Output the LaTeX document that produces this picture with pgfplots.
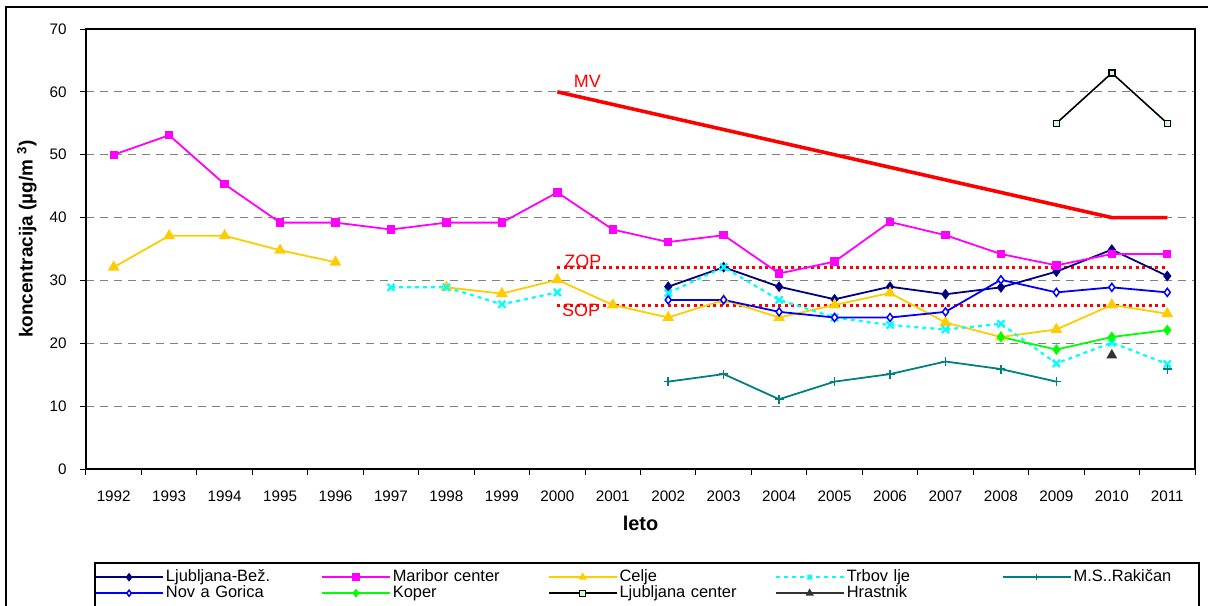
\documentclass[border=0pt]{standalone}
\usepackage{fontspec}
\setmainfont{Liberation Sans}
\usepackage{pgfplots}
\pgfplotsset{compat=1.18}
\definecolor{navyc}{HTML}{000080}
\definecolor{magc}{HTML}{FF00FF}
\definecolor{goldc}{HTML}{FFCC00}
\definecolor{cyanc}{HTML}{00FFFF}
\definecolor{tealc}{HTML}{008080}
\definecolor{bluec}{HTML}{0000FF}
\definecolor{greenc}{HTML}{00FF00}
\definecolor{lgreen}{HTML}{CCFFCC}
\definecolor{dgray}{HTML}{333333}
\definecolor{redc}{HTML}{FF0000}
\begin{document}
\begin{tikzpicture}
\useasboundingbox (-86bp,-137bp) rectangle (1122bp,469bp);
\clip (-86bp,-137bp) rectangle (1122bp,469bp);
\begin{axis}[
  at={(0,0)}, anchor=south west,
  scale only axis, width=1109bp, height=440bp,
  xmin=1991.5, xmax=2011.5, ymin=0, ymax=70,
  xtick={1992,1993,...,2011},
  minor xtick={1991.5,1992.5,...,2011.5},
  ytick={0,10,...,70},
  /pgf/number format/assume math mode=true,
  /pgf/number format/1000 sep={},
  tick pos=left, tick align=outside,
  major x tick style={draw=none},
  minor tick length=6bp, major tick length=6bp,
  every tick/.style={black, line width=1bp},
  axis line style={line width=1.8bp, black},
  ymajorgrids,
  grid style={gray, dash pattern=on 8bp off 6bp, line width=0.9bp},
  ticklabel style={font=\fontsize{15.3}{18}\selectfont},
  yticklabel style={xshift=-10bp},
  xticklabel style={yshift=-12bp},
  xlabel={\textbf{leto}},
  xlabel style={at={(axis description cs:0.5,0)}, anchor=center, yshift=-54bp, font=\fontsize{20}{24}\selectfont},
  ylabel={\textbf{koncentracija (µg/m \textsuperscript{3})}},
  ylabel style={at={(axis description cs:-0.0532,0.5227)}, anchor=center, font=\fontsize{19}{23}\selectfont},
  unbounded coords=jump,
  legend columns=5,
  legend style={at={(axis description cs:0.0072,-0.2273)}, anchor=north west, draw=none, fill=none, inner sep=0pt,
    column sep=0pt, row sep=0pt,
    font=\fontsize{16.5}{17}\selectfont,
    nodes={font=\fontsize{16.5}{17}\selectfont, inner xsep=2bp, inner ysep=0bp, text height=12bp, text depth=4bp, text width=153bp, align=left, anchor=west}},
  legend cell align=left,
  legend image code/.code={\draw[mark repeat=2,mark phase=2,#1,mark size=3bp] plot coordinates {(0bp,0bp) (34bp,0bp) (68bp,0bp)};},
]
% MV, ZOP, SOP
\addplot[redc, line width=3.6bp, forget plot] coordinates {(2000,60) (2001,58) (2002,56) (2003,54) (2004,52) (2005,50) (2006,48) (2007,46) (2008,44) (2009,42) (2010,40) (2011,40)};
\addplot[redc, line width=3bp, dash pattern=on 3bp off 3.5bp, forget plot] coordinates {(2000,32) (2011,32)};
\addplot[redc, line width=3bp, dash pattern=on 3bp off 3.5bp, forget plot] coordinates {(2000,26) (2011,26)};
% Ljubljana-Bez
\addplot[navyc, line width=1.8bp, mark=diamond*, mark size=4bp, mark options={fill=navyc, solid}] coordinates {(2002,29.0) (2003,32.1) (2004,29.0) (2005,27.0) (2006,29.0) (2007,27.8) (2008,28.9) (2009,31.4) (2010,34.9) (2011,30.7)};
\addlegendentry{Ljubljana-Bež.}
% Maribor
\addplot[magc, line width=1.8bp, mark=square*, mark size=3.3bp, mark options={fill=magc, solid}] coordinates {(1992,50) (1993,53.1) (1994,45.3) (1995,39.2) (1996,39.2) (1997,38.1) (1998,39.2) (1999,39.2) (2000,44) (2001,38.1) (2002,36.1) (2003,37.2) (2004,31.1) (2005,33) (2006,39.3) (2007,37.2) (2008,34.2) (2009,32.4) (2010,34.2) (2011,34.2)};
\addlegendentry{Maribor center}
% Celje
\addplot[goldc, line width=1.8bp, mark=triangle*, mark size=5bp, mark options={fill=goldc, solid}] coordinates {(1992,32.1) (1993,37.1) (1994,37.1) (1995,34.8) (1996,32.9) (1997,nan) (1998,28.9) (1999,27.9) (2000,30.1) (2001,26.1) (2002,24.1) (2003,26.9) (2004,24.1) (2005,26.1) (2006,28.0) (2007,23.3) (2008,21.0) (2009,22.2) (2010,26.1) (2011,24.7)};
\addlegendentry{Celje}
% Trbovlje
\addplot[cyanc, line width=2.2bp, dash pattern=on 4bp off 4bp, mark=x, mark size=5bp, mark options={solid, line width=2.2bp}] coordinates {(1997,28.9) (1998,28.9) (1999,26.2) (2000,28.1) (2001,nan) (2002,28.0) (2003,32.1) (2004,26.9) (2005,24.1) (2006,22.9) (2007,22.2) (2008,23.1) (2009,16.8) (2010,20.1) (2011,16.7)};
\addlegendentry{Trbov lje}
% Rakican
\addplot[tealc, line width=1.8bp, mark=+, mark size=4.5bp, mark options={solid, line width=1.5bp}] coordinates {(2002,13.9) (2003,15.1) (2004,11.1) (2005,13.9) (2006,15.1) (2007,17.1) (2008,15.9) (2009,13.9) (2010,nan) (2011,15.9)};
\addlegendentry{M.S..Rakičan}
% Nova Gorica
\addplot[bluec, line width=1.8bp, mark=diamond*, mark size=4bp, mark options={fill=white, solid, line width=1.5bp}] coordinates {(2002,26.9) (2003,26.9) (2004,25.0) (2005,24.1) (2006,24.1) (2007,25.0) (2008,30.1) (2009,28.1) (2010,28.9) (2011,28.1)};
\addlegendentry{Nov a Gorica}
% Koper
\addplot[greenc, line width=1.8bp, mark=diamond*, mark size=4bp, mark options={fill=greenc, solid}] coordinates {(2008,21.0) (2009,19.0) (2010,21.0) (2011,22.1)};
\addlegendentry{Koper}
% Ljubljana center
\addplot[black, line width=1.6bp, mark=square*, mark size=3bp, mark options={fill=lgreen, solid, line width=1.4bp}] coordinates {(2009,55) (2010,63) (2011,55)};
\addlegendentry{Ljubljana center}
% Hrastnik
\addplot[dgray, line width=1.8bp, mark=triangle*, mark size=4.5bp, mark options={fill=dgray, solid}] coordinates {(2010,18.1)};
\addlegendentry{Hrastnik}
\node[text=redc, font=\fontsize{18}{20}\selectfont, anchor=center] at (axis cs:2000.54,61.65) {MV};
\node[text=redc, font=\fontsize{18}{20}\selectfont, anchor=center] at (axis cs:2000.46,33.1) {ZOP};
\node[text=redc, font=\fontsize{18}{20}\selectfont, anchor=center] at (axis cs:2000.43,25.3) {SOP};
\end{axis}
\draw[black, line width=1.2bp] (-80bp,-300bp) -- (-80bp,462bp) -- (1300bp,462bp);
\draw[black, line width=1.2bp] (9bp,-300bp) -- (9bp,-94bp) -- (1113bp,-94bp) -- (1113bp,-300bp);
\end{tikzpicture}
\end{document}
